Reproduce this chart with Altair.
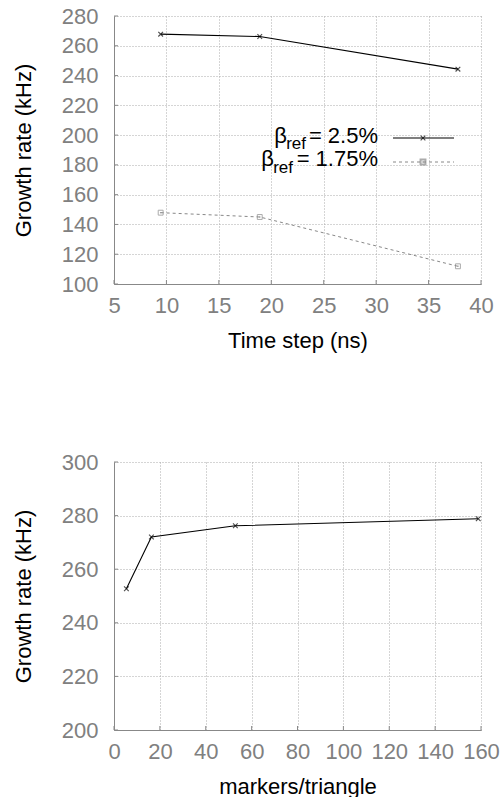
import altair as alt
import pandas as pd

# ---- data ----
ts_x = [9.45, 18.9, 37.8]
beta25_y = [267.8, 266.2, 244.3]
beta175_y = [147.9, 145.0, 111.9]

mk_x = [5.4, 16.3, 52.9, 158.8]
mk_y = [252.7, 272.0, 276.2, 278.8]

top_xticks = [5, 10, 15, 20, 25, 30, 35, 40]
top_yticks = [100, 120, 140, 160, 180, 200, 220, 240, 260, 280]
bot_xticks = [0, 20, 40, 60, 80, 100, 120, 140, 160]
bot_yticks = [200, 220, 240, 260, 280, 300]

FONT = "Liberation Sans"
W, H = 367, 268
XSHAPE = "M-1,-1L1,1M1,-1L-1,1"


def xaxis(title, values):
    return alt.Axis(title=title, values=values, grid=True, gridColor="#aaaaaa",
                    gridDash=[1, 2], domainColor="#888888", ticks=False,
                    labelColor="#808080", labelFontSize=22, titleFontSize=22,
                    titleColor="black", titleFontWeight="normal", labelPadding=11,
                    titlePadding=14, labelFlush=False, labelOverlap=False)


def yaxis(title, values):
    return alt.Axis(title=title, values=values, grid=True, gridColor="#aaaaaa",
                    gridDash=[1, 2], domainColor="#888888", ticks=False,
                    labelColor="#808080", labelFontSize=22, titleFontSize=22,
                    titleColor="black", titleFontWeight="normal", labelPadding=16,
                    titlePadding=26, labelOverlap=False)


def panel(xdom, ydom, xtitle, ytitle, xt, yt):
    X = lambda: alt.X("x:Q", scale=alt.Scale(domain=xdom, nice=False),
                      axis=xaxis(xtitle, xt))
    Y = lambda: alt.Y("y:Q", scale=alt.Scale(domain=ydom, nice=False, zero=False),
                      axis=yaxis(ytitle, yt))
    return X, Y


def inward_ticks(X, Y, xt, yt):
    xs = alt.Chart(pd.DataFrame({"x": xt})).mark_rule(color="#888888").encode(
        x=X(), y=alt.value(H), y2=alt.value(H - 4))
    ys = alt.Chart(pd.DataFrame({"y": yt})).mark_rule(color="#888888").encode(
        y=Y(), x=alt.value(0), x2=alt.value(4))
    return [xs, ys]


# ---- top panel ----
TX, TY = panel([5, 40], [100, 280], "Time step (ns)", "Growth rate (kHz)",
               top_xticks, top_yticks)
s1 = pd.DataFrame({"x": ts_x, "y": beta25_y})
s2 = pd.DataFrame({"x": ts_x, "y": beta175_y})

line1 = alt.Chart(s1).mark_line(color="black", strokeWidth=1.1).encode(x=TX(), y=TY())
pts1 = alt.Chart(s1).mark_point(shape=XSHAPE, size=22, color="black",
                                strokeWidth=1.1).encode(x=TX(), y=TY())
line2 = alt.Chart(s2).mark_line(color="#888888", strokeWidth=1,
                                strokeDash=[3, 3]).encode(x=TX(), y=TY())
pts2 = alt.Chart(s2).mark_point(shape="square", size=24, color="#888888",
                                filled=False, strokeWidth=1).encode(x=TX(), y=TY())
dots2 = alt.Chart(s2).mark_point(shape="square", size=2, color="#888888",
                                 filled=True).encode(x=TX(), y=TY())

legend_rows = pd.DataFrame({"k": [0]})
leg = []
leg.append(alt.Chart(legend_rows).mark_rule(color="black", strokeWidth=1.1).encode(
    x=alt.value(279), x2=alt.value(340), y=alt.value(122)))
leg.append(alt.Chart(legend_rows).mark_point(shape=XSHAPE, size=22, color="black",
                                             strokeWidth=1.1).encode(
    x=alt.value(309), y=alt.value(122)))
leg.append(alt.Chart(legend_rows).mark_rule(color="#888888", strokeWidth=1,
                                            strokeDash=[3, 3]).encode(
    x=alt.value(279), x2=alt.value(340), y=alt.value(146)))
leg.append(alt.Chart(legend_rows).mark_point(shape="square", size=24, color="#888888",
                                             filled=False).encode(
    x=alt.value(309), y=alt.value(146)))
leg.append(alt.Chart(legend_rows).mark_point(shape="square", size=2, color="#888888",
                                             filled=True).encode(
    x=alt.value(309), y=alt.value(146)))


def legtext(txt, x, y, size, align="left"):
    return alt.Chart(legend_rows).mark_text(text=txt, font=FONT, fontSize=size,
                                            color="black", align=align,
                                            baseline="alphabetic").encode(
        x=alt.value(x), y=alt.value(y))


leg += [legtext("= 2.5%", 264, 127, 22, "right"),
        legtext("ref", 192, 133, 17, "right"),
        legtext("\u03b2", 173, 127, 22, "right")]
leg += [legtext("= 1.75%", 264, 150, 22, "right"),
        legtext("ref", 179, 157, 17, "right"),
        legtext("\u03b2", 160, 150, 22, "right")]

top = alt.layer(line1, line2, pts1, pts2, dots2,
                *inward_ticks(TX, TY, top_xticks, top_yticks),
                *leg).properties(width=W, height=H)

# ---- bottom panel ----
BX, BY = panel([0, 160], [200, 300], "markers/triangle", "Growth rate (kHz)",
               bot_xticks, bot_yticks)
m = pd.DataFrame({"x": mk_x, "y": mk_y})
bline = alt.Chart(m).mark_line(color="black", strokeWidth=1.1).encode(x=BX(), y=BY())
bpts = alt.Chart(m).mark_point(shape=XSHAPE, size=22, color="black",
                               strokeWidth=1.1).encode(x=BX(), y=BY())
bottom = alt.layer(bline, bpts,
                   *inward_ticks(BX, BY, bot_xticks, bot_yticks)
                   ).properties(width=W, height=H)

chart = alt.vconcat(top, bottom, spacing=100).properties(
    padding={"left": 12, "top": 5, "right": 0, "bottom": 0},
    background="white",
).configure_view(stroke=None).configure_axis(
    labelFont=FONT, titleFont=FONT
).configure_text(font=FONT)

chart.save("out.html", embed_options={"renderer": "svg", "actions": False})
